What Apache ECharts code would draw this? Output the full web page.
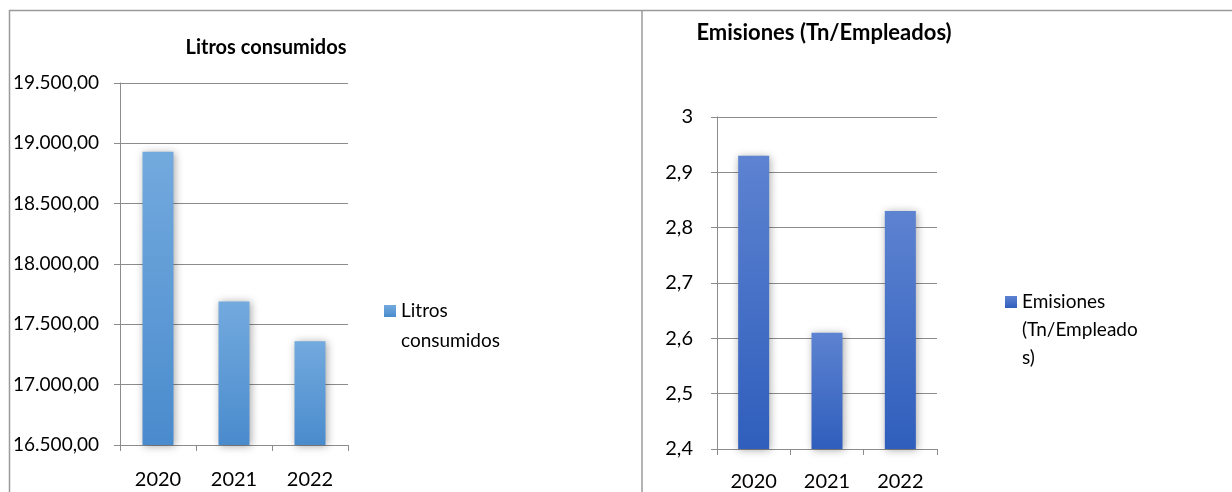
<!DOCTYPE html>
<html>
<head>
<meta charset="utf-8">
<script src="https://cdn.jsdelivr.net/npm/echarts@6/dist/echarts.min.js"></script>
<style>
  html, body { margin: 0; padding: 0; background: #fff; }
  #chart { width: 1232px; height: 492px; }
</style>
</head>
<body>
<div id="chart"></div>
<script>
// data
const years = ['2020', '2021', '2022'];
const litros = [18930, 17690, 17360];
const emisiones = [2.93, 2.61, 2.83];

const font = 'Lato, "Open Sans", sans-serif';

function fmtLitros(v) {
  const s = String(Math.round(v)).replace(/\B(?=(\d{3})+(?!\d))/g, '.');
  return s + ',00';
}
function fmtEmis(v) {
  return String(Math.round(v * 10) / 10).replace('.', ',');
}

function barGrad(top, bottom) {
  return new echarts.graphic.LinearGradient(0, 0, 0, 1, [
    { offset: 0, color: top },
    { offset: 1, color: bottom }
  ]);
}

const gridLine = { lineStyle: { color: '#8c8c8c', width: 1 } };
const axisLine = { show: true, lineStyle: { color: '#8c8c8c', width: 1 } };

const chart = echarts.init(document.getElementById('chart'));

// legend text: leading empty lines keep the icon level with the first line
chart.setOption({
  animation: false,
  textStyle: { fontFamily: font },
  title: [
    {
      text: 'Litros consumidos',
      left: 261, top: 33, textAlign: 'center',
      textStyle: { fontFamily: font, fontWeight: 'bold', fontSize: 20, color: '#000' }
    },
    {
      text: 'Emisiones (Tn/Empleados)',
      left: 819, top: 17, textAlign: 'center',
      textStyle: { fontFamily: font, fontWeight: 'bold', fontSize: 22, color: '#000' }
    }
  ],
  legend: [
    {
      data: ['Litros consumidos'],
      left: 379, top: 261,
      icon: 'rect', itemWidth: 12, itemHeight: 12,
      formatter: () => '\nLitros\nconsumidos',
      textStyle: { fontFamily: font, fontSize: 19, color: '#000', lineHeight: 30 }
    },
    {
      data: ['Emisiones (Tn/Empleados)'],
      left: 1000, top: 227,
      icon: 'rect', itemWidth: 12, itemHeight: 12,
      formatter: () => '\n\nEmisiones\n(Tn/Empleado\ns)',
      textStyle: { fontFamily: font, fontSize: 19, color: '#000', lineHeight: 28 }
    }
  ],
  grid: [
    { left: 120, right: 884, top: 83, bottom: 47 },
    { left: 717, right: 295, top: 117, bottom: 42 }
  ],
  xAxis: [
    {
      gridIndex: 0, type: 'category', data: years,
      axisLine: axisLine,
      axisTick: { show: true, length: 6, lineStyle: { color: '#8c8c8c' } },
      axisLabel: { fontSize: 20, color: '#000', margin: 25, fontFamily: font }
    },
    {
      gridIndex: 1, type: 'category', data: years,
      axisLine: axisLine,
      axisTick: { show: true, length: 6, lineStyle: { color: '#8c8c8c' } },
      axisLabel: { fontSize: 20, color: '#000', margin: 23, fontFamily: font }
    }
  ],
  yAxis: [
    {
      gridIndex: 0, type: 'value', min: 16500, max: 19500, interval: 500,
      axisLine: axisLine,
      axisTick: { show: true, length: 6, lineStyle: { color: '#8c8c8c' } },
      splitLine: gridLine,
      axisLabel: { fontSize: 19, color: '#000', margin: 21, fontFamily: font, formatter: fmtLitros }
    },
    {
      gridIndex: 1, type: 'value', min: 2.4, max: 3, interval: 0.1,
      axisLine: axisLine,
      axisTick: { show: true, length: 6, lineStyle: { color: '#8c8c8c' } },
      splitLine: gridLine,
      axisLabel: { fontSize: 20, color: '#000', margin: 24, fontFamily: font, formatter: fmtEmis }
    }
  ],
  series: [
    {
      name: 'Litros consumidos', type: 'bar',
      xAxisIndex: 0, yAxisIndex: 0,
      data: litros, barWidth: 31,
      itemStyle: {
        color: barGrad('#73aade', '#4a8bcd'),
        shadowColor: 'rgba(0,0,0,0.35)', shadowBlur: 8, shadowOffsetX: 1, shadowOffsetY: 1
      }
    },
    {
      name: 'Emisiones (Tn/Empleados)', type: 'bar',
      xAxisIndex: 1, yAxisIndex: 1,
      data: emisiones, barWidth: 31,
      itemStyle: {
        color: barGrad('#5d83d1', '#2f5ebc'),
        shadowColor: 'rgba(0,0,0,0.35)', shadowBlur: 8, shadowOffsetX: 1, shadowOffsetY: 1
      }
    }
  ],
  graphic: [
    { type: 'line', shape: { x1: 9, y1: 10.5, x2: 1232, y2: 10.5 }, style: { stroke: '#9a9a9a', lineWidth: 1.5 } },
    { type: 'line', shape: { x1: 9.5, y1: 10, x2: 9.5, y2: 492 }, style: { stroke: '#9a9a9a', lineWidth: 1.5 } },
    { type: 'line', shape: { x1: 642, y1: 10, x2: 642, y2: 492 }, style: { stroke: '#9a9a9a', lineWidth: 1.5 } }
  ]
});
</script>
</body>
</html>
